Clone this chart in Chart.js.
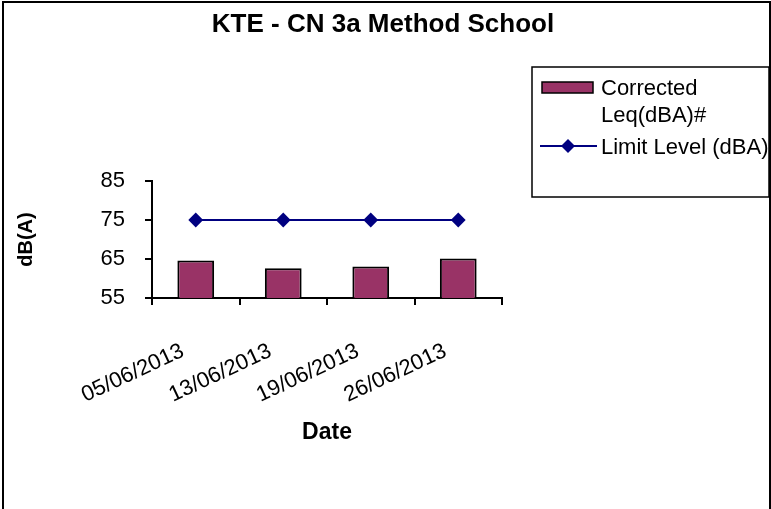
<!DOCTYPE html>
<html lang="en">
<head>
    <meta charset="UTF-8">
    <title>KTE - CN 3a Method School</title>
    <script src="https://cdn.jsdelivr.net/npm/chart.js"></script>
    <style>
        body { margin: 0; background: #fff; }
        #noiseChart { display: block; }
    </style>
</head>
<body>
    <canvas id="noiseChart" width="771" height="509"></canvas>

    <script>
// donnees
const dates = ['05/06/2013', '13/06/2013', '19/06/2013', '26/06/2013'];
const correctedLeq = [64.6, 62.6, 63.1, 65.1];
const limitLevel = [75, 75, 75, 75];
const yMin = 55;
const yMax = 85;
const yStep = 10;

const chartTitle = 'KTE - CN 3a Method School';
const legendLabels = [['Corrected', 'Leq(dBA)#'], ['Limit Level (dBA)']];

const FONT = '"Liberation Sans", Arial, sans-serif';
const BAR_COLOR = '#993366';
const LINE_COLOR = '#000080';

// titre, cadre et legende dessines a la main (position style Excel)
const excelFrame = {
    id: 'excelFrame',
    beforeDraw(chart) {
        const ctx = chart.ctx;
        ctx.save();
        ctx.fillStyle = '#fff';
        ctx.fillRect(0, 0, chart.width, chart.height);
        ctx.restore();
    },
    afterDraw(chart) {
        const ctx = chart.ctx;
        ctx.save();
        // cadre exterieur
        ctx.strokeStyle = '#000';
        ctx.lineWidth = 2;
        ctx.strokeRect(3, 2, 767, 530);

        // titre
        ctx.fillStyle = '#000';
        ctx.font = 'bold 26px ' + FONT;
        ctx.textAlign = 'center';
        ctx.textBaseline = 'alphabetic';
        ctx.fillText(chartTitle, 383, 32);

        // legende
        ctx.lineWidth = 1.5;
        ctx.strokeRect(532, 67, 237, 130);
        ctx.font = '22px ' + FONT;
        ctx.textAlign = 'left';

        ctx.fillStyle = BAR_COLOR;
        ctx.fillRect(542, 82, 51, 11);
        ctx.strokeStyle = '#000';
        ctx.strokeRect(542, 82, 51, 11);
        ctx.fillStyle = '#000';
        ctx.fillText(legendLabels[0][0], 601, 95);
        ctx.fillText(legendLabels[0][1], 601, 122);

        ctx.strokeStyle = LINE_COLOR;
        ctx.lineWidth = 2;
        ctx.beginPath();
        ctx.moveTo(540, 146);
        ctx.lineTo(597, 146);
        ctx.stroke();
        ctx.fillStyle = LINE_COLOR;
        ctx.beginPath();
        ctx.moveTo(568, 139);
        ctx.lineTo(575, 146);
        ctx.lineTo(568, 153);
        ctx.lineTo(561, 146);
        ctx.closePath();
        ctx.fill();
        ctx.fillStyle = '#000';
        ctx.fillText(legendLabels[1][0], 601, 154);
        ctx.restore();
    }
};

var ctx = document.getElementById('noiseChart').getContext('2d');
var noiseChart = new Chart(ctx, {
    type: 'bar',
    data: {
        labels: dates,
        datasets: [
            {
                type: 'line',
                label: 'Limit Level (dBA)',
                data: limitLevel,
                borderColor: LINE_COLOR,
                backgroundColor: LINE_COLOR,
                borderWidth: 2,
                pointStyle: 'rectRot',
                pointRadius: 6,
                pointBackgroundColor: LINE_COLOR,
                pointBorderColor: LINE_COLOR,
                order: 0
            },
            {
                label: 'Corrected Leq(dBA)#',
                data: correctedLeq,
                backgroundColor: BAR_COLOR,
                borderColor: '#000',
                borderWidth: 2,
                borderSkipped: false,
                categoryPercentage: 1,
                barPercentage: 0.42,
                order: 1
            }
        ]
    },
    options: {
        responsive: false,
        animation: false,
        layout: { padding: { left: 10, top: 181, right: 269, bottom: 61 } },
        plugins: {
            legend: { display: false },
            title: { display: false },
            tooltip: { enabled: false }
        },
        scales: {
            x: {
                offset: true,
                afterFit(scale) { scale.height = 150; },
                grid: {
                    offset: true,
                    drawOnChartArea: false,
                    drawTicks: true,
                    tickLength: 7,
                    color: '#000',
                    lineWidth: 2
                },
                border: { display: true, color: '#000', width: 2 },
                ticks: {
                    color: '#000',
                    font: { family: FONT, size: 22 },
                    minRotation: 25,
                    maxRotation: 25,
                    autoSkip: false,
                    padding: 33,
                    labelOffset: -13
                },
                title: {
                    display: true,
                    text: 'Date',
                    color: '#000',
                    font: { family: FONT, size: 23, weight: 'bold' },
                    padding: { top: 0, bottom: 2 }
                }
            },
            y: {
                min: yMin,
                max: yMax,
                afterFit(scale) { scale.width = 142; },
                grid: {
                    drawOnChartArea: false,
                    drawTicks: true,
                    tickLength: 7,
                    color: '#000',
                    lineWidth: 2
                },
                border: { display: true, color: '#000', width: 2 },
                ticks: {
                    stepSize: yStep,
                    color: '#000',
                    font: { family: FONT, size: 22 },
                    padding: 20
                },
                title: {
                    display: true,
                    text: 'dB(A)',
                    color: '#000',
                    font: { family: FONT, size: 20, weight: 'bold' },
                    padding: { top: 4, bottom: 0 }
                }
            }
        }
    },
    plugins: [excelFrame]
});
    </script>
</body>
</html>
